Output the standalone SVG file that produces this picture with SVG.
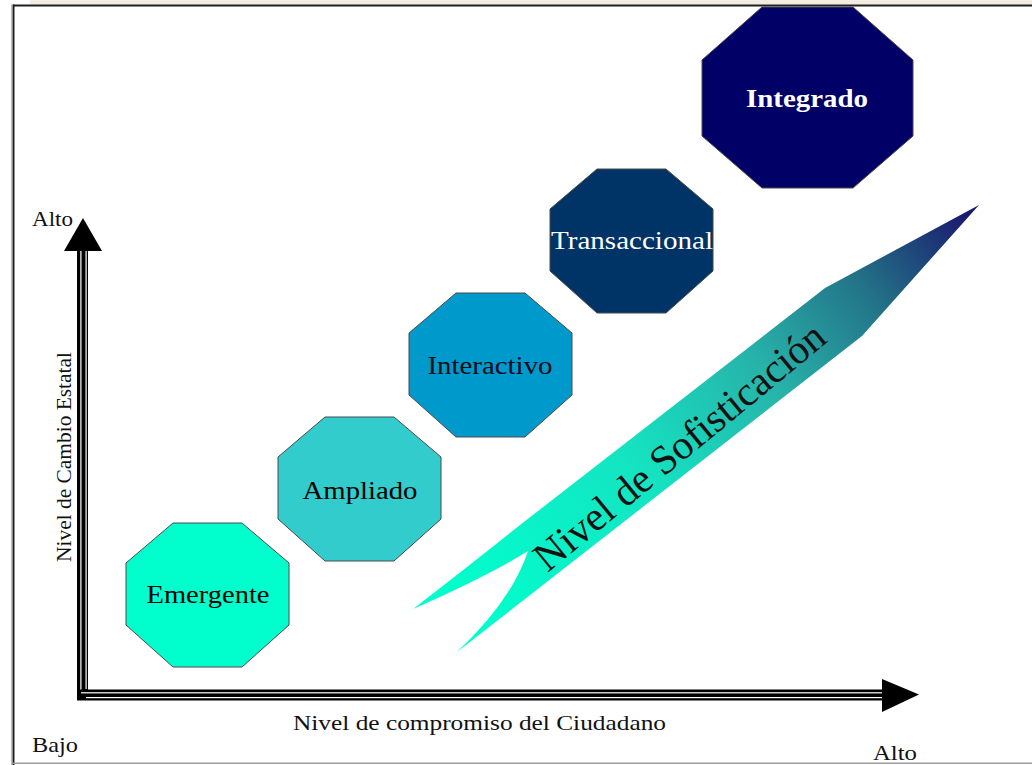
<svg xmlns="http://www.w3.org/2000/svg" width="1032" height="765" viewBox="0 0 1032 765">
<defs>
<style>
.oct{stroke:#4a4a4a;stroke-width:1}
.lbl{font-family:"Liberation Serif","Times New Roman",serif;font-size:26px;text-anchor:middle}
.ax{font-family:"Liberation Serif","Times New Roman",serif;font-size:21px;fill:#111}
</style>
<linearGradient id="soph" gradientUnits="userSpaceOnUse" x1="470" y1="620" x2="965" y2="212">
<stop offset="0" stop-color="#00FFCC"/>
<stop offset="0.35" stop-color="#14e4c2"/>
<stop offset="0.6" stop-color="#27b3aa"/>
<stop offset="0.8" stop-color="#237488"/>
<stop offset="1" stop-color="#1a1a6e"/>
</linearGradient>
</defs>
<rect x="0" y="0" width="1032" height="765" fill="#ffffff"/>
<g id="frame">
<rect x="30" y="0" width="1002" height="4.5" fill="#f1ede3"/>
<rect x="13" y="4.5" width="1019" height="2" fill="#1e1e1e"/>
<rect x="12.5" y="4.5" width="2" height="761" fill="#1e1e1e"/>
<rect x="11" y="4.5" width="1" height="761" fill="#bdbdbd"/>
<rect x="13" y="762.5" width="1019" height="1.5" fill="#9c9c9c"/>
</g>
<g id="sophistication">
<path d="M979,205 L825,288 L520,525 Q470,565 413,609 Q490,575 528,551 Q512,600 457,652 L862,336 Z" fill="url(#soph)" stroke="none"/>
<text x="679" y="446" transform="rotate(-39.5 679 446)" font-family="'Liberation Serif','Times New Roman',serif" font-size="41" text-anchor="middle" dy="0.35em" fill="#111">Nivel de Sofisticación</text>
</g>
<g id="connectors">
<g id="axis-y">
<rect x="77" y="248" width="11" height="452" fill="#000"/>
<rect x="80.3" y="248" width="1.2" height="446" fill="#fff"/>
<rect x="85.5" y="248" width="1.2" height="441" fill="#fff"/>
<polygon points="83,218 64,251 102,251" fill="#000"/>
</g>
<g id="axis-x">
<rect x="77" y="689.5" width="808" height="11" fill="#000"/>
<rect x="81" y="692.2" width="804" height="1.2" fill="#fff"/>
<rect x="86" y="697" width="799" height="1.2" fill="#fff"/>
<polygon points="919,694.5 882,679 882,712" fill="#000"/>
</g>
</g>
<g id="node-emergente">
<polygon class="oct" fill="#00FFCC" points="173,523 242,523 289,563 289,625 242,667 173,667 126,625 126,563"/>
<text class="lbl" x="208" y="603" textLength="123" lengthAdjust="spacingAndGlyphs" fill="#000">Emergente</text>
</g>
<g id="node-ampliado">
<polygon class="oct" fill="#33CCCC" points="325,417 394,417 441,457 441,519 394,561 325,561 278,519 278,457"/>
<text class="lbl" x="360" y="499" textLength="115" lengthAdjust="spacingAndGlyphs" fill="#000">Ampliado</text>
</g>
<g id="node-interactivo">
<polygon class="oct" fill="#0099CC" points="456,293 525,293 572,333 572,395 525,437 456,437 409,395 409,333"/>
<text class="lbl" x="490" y="374" textLength="125" lengthAdjust="spacingAndGlyphs" fill="#0a0a1a">Interactivo</text>
</g>
<g id="node-transaccional">
<polygon class="oct" fill="#003366" points="597,169 666,169 713,209 713,271 666,313 597,313 550,271 550,209"/>
<text class="lbl" x="632" y="249" textLength="162" lengthAdjust="spacingAndGlyphs" fill="#ffffff">Transaccional</text>
</g>
<g id="node-integrado">
<polygon class="oct" fill="#000066" points="762,7 853,7 913,60 913,136 853,188 762,188 702,136 702,60"/>
<text class="lbl" x="807" y="107" textLength="122" lengthAdjust="spacingAndGlyphs" font-weight="bold" fill="#ffffff">Integrado</text>
</g>
<g id="labels">
<text class="ax" x="32" y="226" textLength="41" lengthAdjust="spacingAndGlyphs">Alto</text>
<text class="ax" x="32" y="752" textLength="46" lengthAdjust="spacingAndGlyphs">Bajo</text>
<text class="ax" x="873" y="760" textLength="44" lengthAdjust="spacingAndGlyphs">Alto</text>
<text class="ax" x="293" y="730" textLength="373" lengthAdjust="spacingAndGlyphs">Nivel de compromiso del Ciudadano</text>
<text class="ax" x="0" y="0" transform="translate(71 562) rotate(-90)" textLength="210" lengthAdjust="spacingAndGlyphs">Nivel de Cambio Estatal</text>
</g>
</svg>
